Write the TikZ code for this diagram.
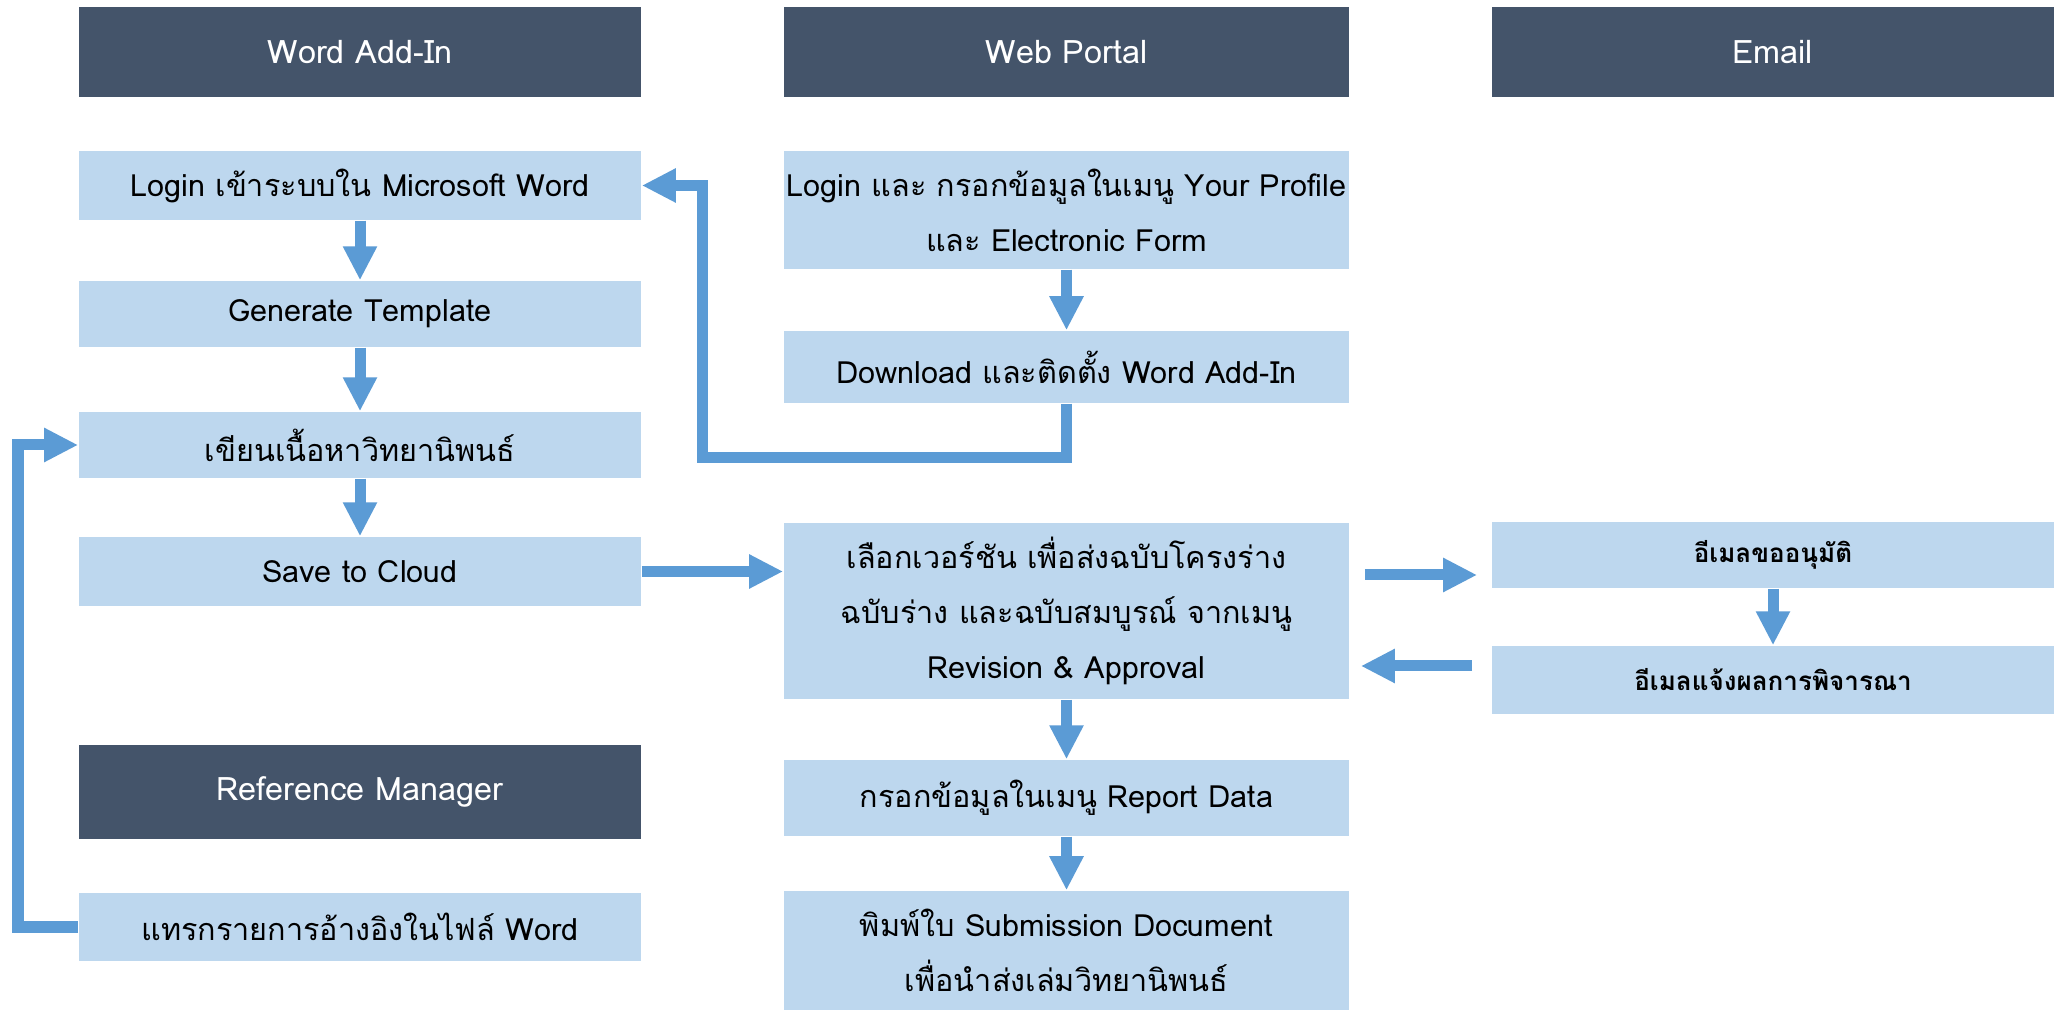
\documentclass[tikz,border=0pt]{standalone}
\usepackage{fontspec}
\setmainfont[Script=Thai]{Loma}
\usetikzlibrary{arrows.meta}
\definecolor{hdr}{HTML}{44546A}
\definecolor{boxc}{HTML}{BDD7EE}
\definecolor{arrc}{HTML}{5B9BD5}
\begin{document}
\begin{tikzpicture}[x=0.01cm,y=-0.01cm,
  hdrbox/.style={fill=hdr, text=white, minimum width=5.62cm, minimum height=0.9cm, inner sep=0pt, font=\fontsize{9.2}{11}\selectfont},
  stepbox/.style={fill=boxc, text=black, minimum width=5.62cm, inner sep=0pt, align=center, font=\fontsize{8.7}{15.6}\selectfont},
  mailbox/.style={stepbox, font=\fontsize{7.4}{15.6}\selectfont\bfseries},
  arr/.style={draw=arrc, line width=0.11cm, -{Triangle[length=0.34cm,width=0.32cm]}},
]
\useasboundingbox[fill=white] (0,0) rectangle (2060,1010);
% headers
\node[hdrbox] (hword) at (360,52) {Word Add-In};
\node[hdrbox, minimum width=5.65cm] (hweb) at (1066.5,52) {Web Portal};
\node[hdrbox] (hmail) at (1773,52) {Email};
\node[hdrbox, minimum height=0.94cm] (href) at (360,792) {Reference Manager};
% Word Add-In column
\node[stepbox, minimum height=0.69cm] (login) at (360,185.5) {Login เข้าระบบใน Microsoft Word};
\node[stepbox, minimum height=0.66cm] (gen) at (360,314) {Generate Template};
\node[stepbox, minimum height=0.66cm] (write) at (360,445) {เขียนเนื้อหาวิทยานิพนธ์};
\node[stepbox, minimum height=0.69cm] (save) at (360,571.5) {Save to Cloud};
\node[stepbox, minimum height=0.68cm] (insert) at (360,927) {แทรกรายการอ้างอิงในไฟล์ Word};
% Web Portal column
\node[stepbox, minimum width=5.65cm, minimum height=1.18cm] (wlogin) at (1066.5,210) {Login และ กรอกข้อมูลในเมนู Your Profile\\และ Electronic Form};
\node[stepbox, minimum width=5.65cm, minimum height=0.72cm] (download) at (1066.5,367) {Download และติดตั้ง Word Add-In};
\node[stepbox, minimum width=5.65cm, minimum height=1.76cm] (select) at (1066.5,611) {เลือกเวอร์ชัน เพื่อส่งฉบับโครงร่าง\\ฉบับร่าง และฉบับสมบูรณ์ จากเมนู\\Revision \& Approval};
\node[stepbox, minimum width=5.65cm, minimum height=0.76cm] (report) at (1066.5,798) {กรอกข้อมูลในเมนู Report Data};
\node[stepbox, minimum width=5.65cm, minimum height=1.19cm] (print) at (1066.5,950.5) {พิมพ์ใบ Submission Document\\เพื่อนำส่งเล่มวิทยานิพนธ์};
% Email column
\node[mailbox, minimum height=0.66cm] (eapp) at (1773,555) {อีเมลขออนุมัติ};
\node[mailbox, minimum height=0.68cm] (eres) at (1773,680) {อีเมลแจ้งผลการพิจารณา};
% helper coordinates
\coordinate (c1) at (702,458);
\coordinate (c2) at (18,927);
\coordinate (ya) at (0,575);
\coordinate (yb) at (0,666);
% connectors
\draw[arr] (login) -- (gen);
\draw[arr] (gen) -- (write);
\draw[arr] (write) -- (save);
\draw[arr] (wlogin) -- (download);
\draw[arr] (select) -- (report);
\draw[arr] (report) -- (print);
\draw[arr] (eapp) -- (eres);
\draw[arr] (download.south) |- (c1) |- (login.east);
\draw[arr] (insert.west) -- (c2) |- (write.west);
\draw[arr] (save.east) -- (save.east -| select.west);
\draw[arr, shorten <=0.15cm, shorten >=0.14cm] (select.east |- ya) -- (eapp.west |- ya);
\draw[arr, shorten <=0.19cm, shorten >=0.11cm] (eres.west |- yb) -- (select.east |- yb);
\end{tikzpicture}
\end{document}
